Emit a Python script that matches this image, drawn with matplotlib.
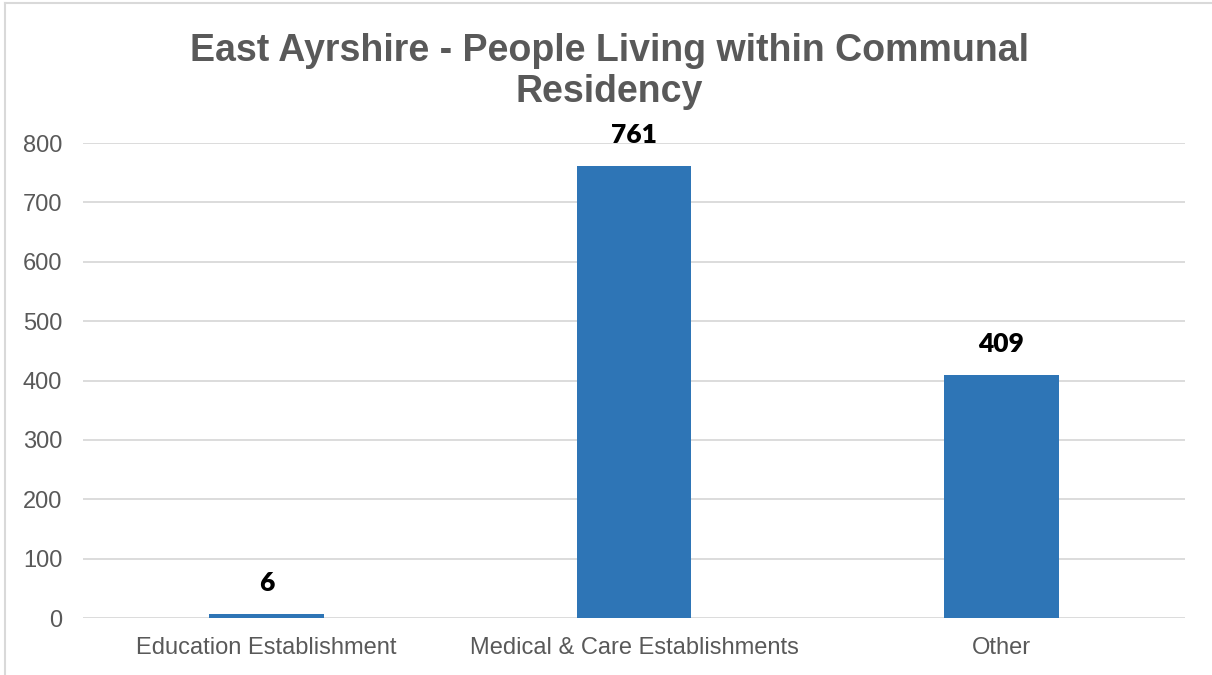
import matplotlib.pyplot as plt
from matplotlib.lines import Line2D

categories = ['Education Establishment', 'Medical & Care Establishments', 'Other']
people = [6, 761, 409]
yticks = [0, 100, 200, 300, 400, 500, 600, 700, 800]

fig = plt.figure(figsize=(12.12, 6.75), dpi=100)
ax = fig.add_axes([0.0685, 0.0844, 0.9092, 0.7036])

x = range(len(categories))
bars = ax.bar(x, people, width=0.313, color='#2E75B6', zorder=3)

ax.set_xlim(-0.5, 2.5)
ax.set_ylim(0, 800)
ax.set_yticks(yticks)
ax.set_xticks(list(x))
ax.set_xticklabels(categories)
ax.tick_params(axis='both', length=0, labelsize=17, labelcolor='#595959')
ax.tick_params(axis='x', pad=14)
ax.tick_params(axis='y', pad=15)
for lbl in ax.get_xticklabels() + ax.get_yticklabels():
    lbl.set_family('Liberation Sans')

ax.grid(axis='y', color='#d9d9d9', linewidth=1.3, zorder=0)
for s in ax.spines.values():
    s.set_visible(False)

for b, v in zip(bars, people):
    ax.annotate(str(v), (b.get_x() + b.get_width() / 2, v), xytext=(0, 14),
                textcoords='offset points', ha='center', va='bottom',
                fontsize=19, fontweight='heavy', family='Lato', color='black')

fig.text(0.503, 0.894, 'East Ayrshire - People Living within Communal\nResidency',
         ha='center', va='center', fontsize=27, fontweight='bold',
         family='Liberation Sans', color='#595959', linespacing=1.2)

# chart frame: only left and top edges fall inside the image
fx = 5 / 1212
fy = 1 - 3 / 675
fig.add_artist(Line2D([fx, fx], [0, fy], transform=fig.transFigure,
                      color='#d9d9d9', linewidth=1.5))
fig.add_artist(Line2D([fx, 1], [fy, fy], transform=fig.transFigure,
                      color='#d9d9d9', linewidth=1.5))

fig.savefig('out.png', dpi=100, facecolor='white')
